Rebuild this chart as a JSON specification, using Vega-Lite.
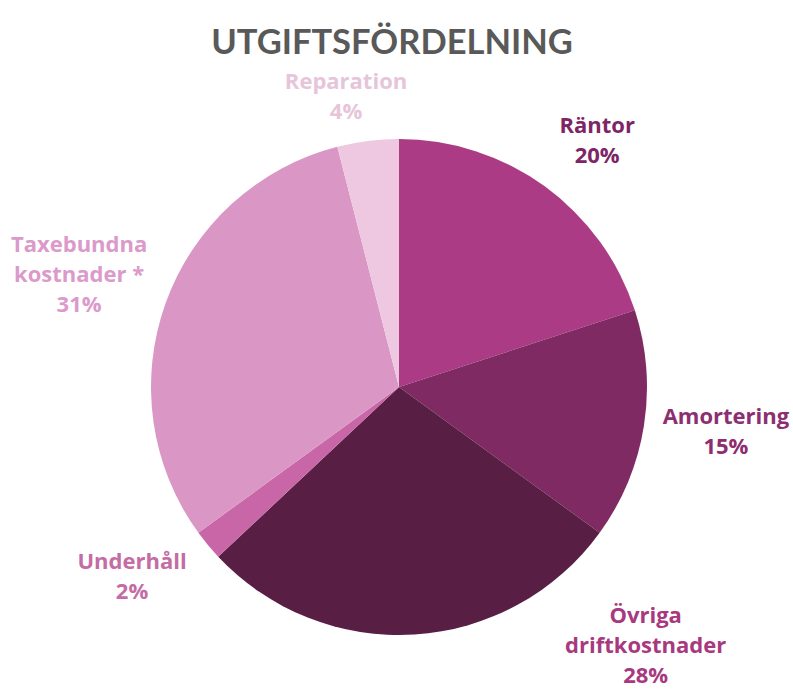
{
  "$schema": "https://vega.github.io/schema/vega-lite/v6.json",
  "width": 798,
  "height": 634,
  "autosize": {"type": "none"},
  "padding": {"left": 0, "top": 70, "right": 0, "bottom": 0},
  "background": "white",
  "title": {
    "text": "UTGIFTSFÖRDELNING",
    "font": "Lato",
    "fontSize": 34.5,
    "fontWeight": "bold",
    "color": "#595959",
    "anchor": "middle",
    "frame": "group",
    "baseline": "alphabetic",
    "offset": -18,
    "dx": -7
  },
  "data": {
    "values": [
      {"i": 1, "name": "Räntor", "value": 20},
      {"i": 2, "name": "Amortering", "value": 15},
      {"i": 3, "name": "Övriga\ndriftkostnader", "value": 28},
      {"i": 4, "name": "Underhåll", "value": 2},
      {"i": 5, "name": "Taxebundna\nkostnader *", "value": 31},
      {"i": 6, "name": "Reparation", "value": 4}
    ]
  },
  "encoding": {
    "theta": {"field": "value", "type": "quantitative", "stack": true},
    "order": {"field": "i", "type": "quantitative", "sort": "ascending"}
  },
  "layer": [
    {
      "mark": {"type": "arc", "outerRadius": 248},
      "encoding": {
        "color": {
          "field": "name",
          "type": "nominal",
          "legend": null,
          "scale": {
            "domain": ["Räntor", "Amortering", "Övriga\ndriftkostnader", "Underhåll", "Taxebundna\nkostnader *", "Reparation"],
            "range": ["#AC3B85", "#7F2A63", "#581E44", "#C866A8", "#DA97C5", "#EDC8E0"]
          }
        }
      }
    },
    {
      "transform": [
        {"calculate": "datum.name + '\\n' + datum.value + '%'", "as": "label"}
      ],
      "mark": {
        "type": "text",
        "font": "Open Sans",
        "fontSize": 22,
        "fontWeight": "bold",
        "lineBreak": "\n",
        "lineHeight": 30,
        "align": "center",
        "baseline": "middle",
        "radius": {"expr": "datum.i==1?315:datum.i==2?331:datum.i==3?265:datum.i==4?327:datum.i==5?340:295"},
        "dx": {"expr": "datum.i==1?13:datum.i==3?230:datum.i==4?-15:datum.i==6?-16:0"},
        "dy": {"expr": "datum.i==1?-6:datum.i==2?-22:datum.i==3?-35:datum.i==4?-33:datum.i==5?-27:-12"}
      },
      "encoding": {
        "text": {"field": "label", "type": "nominal"},
        "color": {
          "field": "name",
          "type": "nominal",
          "legend": null,
          "scale": {
            "domain": ["Räntor", "Amortering", "Övriga\ndriftkostnader", "Underhåll", "Taxebundna\nkostnader *", "Reparation"],
            "range": ["#7E2565", "#8C2E70", "#A8397F", "#C46CA3", "#DB9AC9", "#E6C5DA"]
          }
        }
      }
    }
  ],
  "resolve": {"scale": {"color": "independent"}},
  "config": {"view": {"stroke": null}}
}
